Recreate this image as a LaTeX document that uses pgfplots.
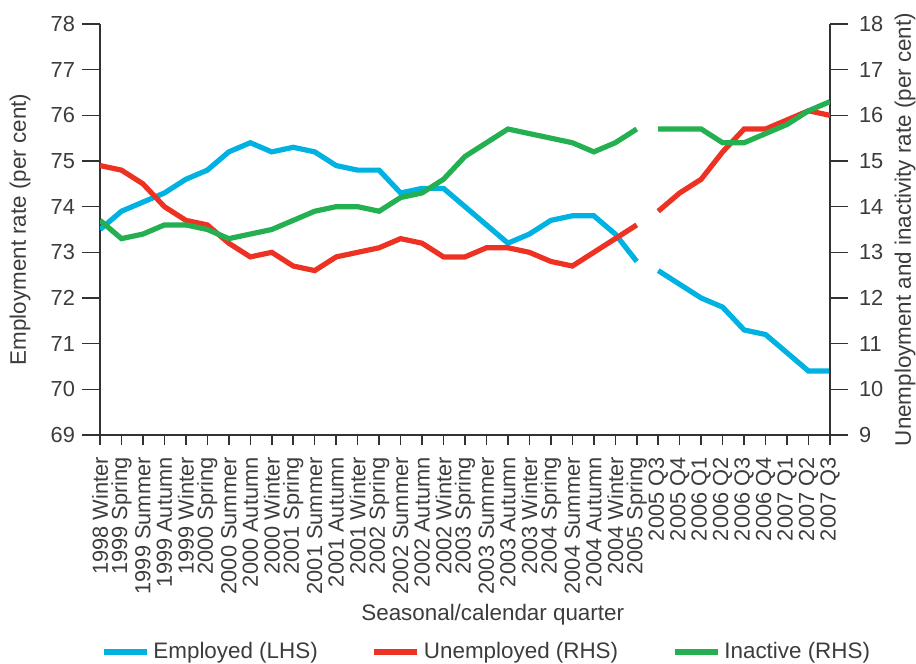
\documentclass[border=0pt]{standalone}
\usepackage{pgfplots}
\pgfplotsset{compat=1.18}
\usepackage{fontspec}
\setmainfont{Liberation Sans}
\definecolor{empblue}{RGB}{0,178,226}
\definecolor{unred}{RGB}{237,50,36}
\definecolor{inagreen}{RGB}{36,176,80}
\definecolor{txt}{RGB}{60,60,60}
\definecolor{axl}{RGB}{50,50,50}
\newcommand{\fs}{\fontsize{10.9}{13}\selectfont}
\newcommand{\fl}{\fontsize{11.2}{13}\selectfont}
\newcommand{\fg}{\fontsize{11.2}{13}\selectfont}
\pgfplotsset{
  common/.style={
    width=365pt, height=205.5pt, scale only axis,
    xmin=0, xmax=34,
    tick align=outside,
    major tick length=9pt,
    axis line style={-, draw=axl, line width=0.75pt},
    tick style={draw=axl, line width=0.75pt},
    tick label style={font=\fs, text=txt},
    /pgf/number format/assume math mode=true,
    ytick={9,...,18},
    unbounded coords=jump,
  },
}
\begin{document}
\begin{tikzpicture}
\useasboundingbox (-50pt,-114.5pt) rectangle (408pt,217.5pt);
\begin{axis}[common,
  axis y line*=left, axis x line*=bottom,
  ymin=69, ymax=78, ytick={69,...,78},
  xtick={0,...,34},
  xtick style={/pgfplots/major tick length=5pt},
  xticklabels={1998 Winter,1999 Spring,1999 Summer,1999 Autumn,1999 Winter,2000 Spring,2000 Summer,2000 Autumn,2000 Winter,2001 Spring,2001 Summer,2001 Autumn,2001 Winter,2002 Spring,2002 Summer,2002 Autumn,2002 Winter,2003 Spring,2003 Summer,2003 Autumn,2003 Winter,2004 Spring,2004 Summer,2004 Autumn,2004 Winter,2005 Spring,2005 Q3,2005 Q4,2006 Q1,2006 Q2,2006 Q3,2006 Q4,2007 Q1,2007 Q2,2007 Q3},
  xticklabel style={rotate=90, anchor=east, inner sep=2pt},
  xlabel={Seasonal/calendar quarter},
  every axis x label/.style={at={(axis description cs:0.538,-0.438)}, anchor=center, font=\fl, text=txt},
  ylabel={Employment rate (per cent)},
  every axis y label/.style={at={(axis description cs:-0.1096,0.5)}, anchor=center, rotate=90, font=\fl, text=txt},
]
\addplot[empblue, line width=2.6pt] coordinates {
(0,73.5) (1,73.9) (2,74.1) (3,74.3) (4,74.6) (5,74.8) (6,75.2) (7,75.4) (8,75.2) (9,75.3)
(10,75.2) (11,74.9) (12,74.8) (13,74.8) (14,74.3) (15,74.4) (16,74.4) (17,74.0) (18,73.6) (19,73.2)
(20,73.4) (21,73.7) (22,73.8) (23,73.8) (24,73.4) (25,72.8) (25.5,nan)
(26,72.6) (27,72.3) (28,72.0) (29,71.8) (30,71.3) (31,71.2) (32,70.8) (33,70.4) (34,70.4)
};
\end{axis}
\begin{axis}[common,
  axis y line*=right, axis x line=none,
  ymin=9, ymax=18, ytick={9,...,18},
  yticklabel style={xshift=2pt},
  ylabel={Unemployment and inactivity rate (per cent)},
  every axis y label/.style={at={(axis description cs:1.1027,0.5)}, anchor=center, rotate=90, font=\fl, text=txt},
  legend columns=3,
  legend style={draw=none, fill=none, font=\fg, text=txt,
    at={(axis description cs:0.531,-0.528)}, anchor=center,
    /tikz/every even column/.append style={column sep=25pt}},
  legend image code/.code={\draw[#1] (0pt,0pt) -- (21.5pt,0pt);},
]
\addlegendimage{empblue, line width=2.6pt}
\addlegendentry{Employed (LHS)}
\addplot[unred, line width=2.6pt] coordinates {
(0,14.9) (1,14.8) (2,14.5) (3,14.0) (4,13.7) (5,13.6) (6,13.2) (7,12.9) (8,13.0) (9,12.7)
(10,12.6) (11,12.9) (12,13.0) (13,13.1) (14,13.3) (15,13.2) (16,12.9) (17,12.9) (18,13.1) (19,13.1)
(20,13.0) (21,12.8) (22,12.7) (23,13.0) (24,13.3) (25,13.6) (25.5,nan)
(26,13.9) (27,14.3) (28,14.6) (29,15.2) (30,15.7) (31,15.7) (32,15.9) (33,16.1) (34,16.0)
};
\addlegendentry{Unemployed (RHS)}
\addplot[inagreen, line width=2.6pt] coordinates {
(0,13.7) (1,13.3) (2,13.4) (3,13.6) (4,13.6) (5,13.5) (6,13.3) (7,13.4) (8,13.5) (9,13.7)
(10,13.9) (11,14.0) (12,14.0) (13,13.9) (14,14.2) (15,14.3) (16,14.6) (17,15.1) (18,15.4) (19,15.7)
(20,15.6) (21,15.5) (22,15.4) (23,15.2) (24,15.4) (25,15.7) (25.5,nan)
(26,15.7) (27,15.7) (28,15.7) (29,15.4) (30,15.4) (31,15.6) (32,15.8) (33,16.1) (34,16.3)
};
\addlegendentry{Inactive (RHS)}
\end{axis}
\end{tikzpicture}
\end{document}
